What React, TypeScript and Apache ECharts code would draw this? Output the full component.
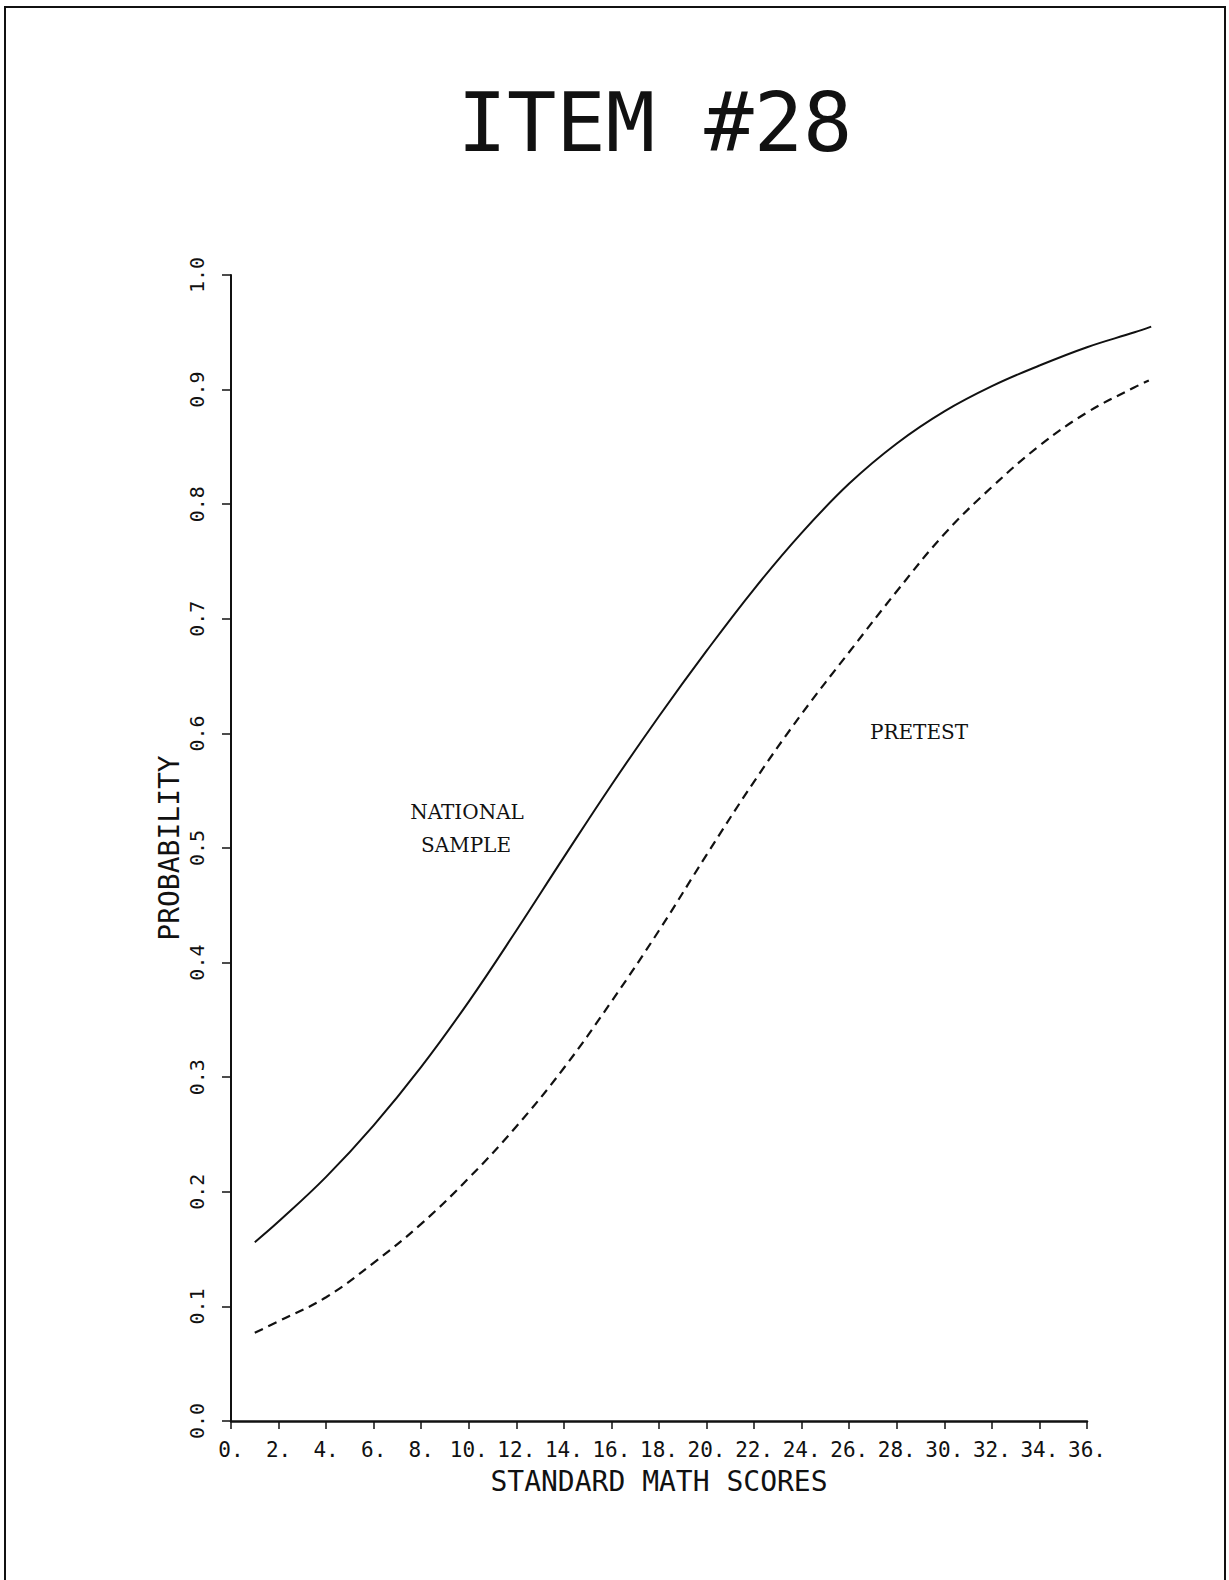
import React, { useEffect, useRef } from "react";
import * as echarts from "echarts";

const titleText = "ITEM #28";
const xAxisName = "STANDARD MATH SCORES";
const yAxisName = "PROBABILITY";

// Solid curve: National sample
const nationalX = [1, 2, 4, 6, 8, 10, 12, 14, 16, 18, 20, 22, 24, 26, 28, 30, 32, 34, 36, 38, 38.7];
const nationalY = [0.156, 0.174, 0.213, 0.258, 0.309, 0.366, 0.428, 0.492, 0.555, 0.615, 0.672, 0.726, 0.775, 0.818, 0.853, 0.881, 0.903, 0.921, 0.937, 0.950, 0.955];

// Dashed curve: Pretest
const pretestX = [1, 2, 4, 6, 8, 10, 12, 14, 16, 18, 20, 22, 24, 26, 28, 30, 32, 34, 36, 38, 38.6];
const pretestY = [0.077, 0.087, 0.108, 0.138, 0.172, 0.212, 0.257, 0.308, 0.366, 0.428, 0.494, 0.558, 0.617, 0.671, 0.724, 0.774, 0.815, 0.851, 0.880, 0.902, 0.908];

const labelNational = ["NATIONAL", "SAMPLE"];
const labelPretest = "PRETEST";

const xAxisMax = 36;
const dataAxisMax = 39;

const mono = "'DejaVu Sans Mono', monospace";
const serif = "'DejaVu Serif', serif";

export default function App() {
  const ref = useRef<HTMLDivElement>(null);
  useEffect(() => {
    if (!ref.current) return;
    const chart = echarts.init(ref.current, undefined, { renderer: "svg" });
    const national = nationalX.map((x, i) => [x, nationalY[i]]);
    const pretest = pretestX.map((x, i) => [x, pretestY[i]]);

    const W = 1229;
    const left = 231;
    const right = 142;
    const plotW = W - left - right;
    const pxPerUnit = plotW / xAxisMax;
    const right2 = W - left - pxPerUnit * dataAxisMax;
    const top = 275;
    const bottom = 159;

    chart.setOption({
      animation: false,
      backgroundColor: "#ffffff",
      title: {
        text: titleText,
        left: 650,
        top: 76,
        textAlign: "center",
        textStyle: {
          fontFamily: mono,
          fontSize: 82,
          fontWeight: "normal",
          color: "#111",
        },
      },
      grid: [
        { left, right, top, bottom, containLabel: false },
        { left, right: right2, top, bottom, containLabel: false },
      ],
      xAxis: [
        {
          type: "value",
          gridIndex: 0,
          min: 0,
          max: xAxisMax,
          interval: 2,
          name: xAxisName,
          nameLocation: "middle",
          nameGap: 46,
          nameMoveOverlap: false,
          nameTextStyle: { fontFamily: mono, fontSize: 28, color: "#111" },
          axisLine: { show: true, lineStyle: { color: "#111", width: 2.5 } },
          axisTick: { show: true, inside: false, length: 8, lineStyle: { color: "#111", width: 1.5 } },
          axisLabel: {
            fontFamily: mono,
            fontSize: 21,
            color: "#111",
            margin: 18,
            formatter: (v: number) => `${v}.`,
          },
          splitLine: { show: false },
        },
        {
          type: "value",
          gridIndex: 1,
          min: 0,
          max: dataAxisMax,
          show: false,
        },
      ],
      yAxis: [
        {
          type: "value",
          gridIndex: 0,
          min: 0,
          max: 1,
          interval: 0.1,
          name: yAxisName,
          nameLocation: "middle",
          nameRotate: 90,
          nameGap: 48,
          nameMoveOverlap: false,
          nameTextStyle: { fontFamily: mono, fontSize: 28, color: "#111" },
          axisLine: { show: true, lineStyle: { color: "#111", width: 2 } },
          axisTick: { show: true, inside: false, length: 9, lineStyle: { color: "#111", width: 1.5 } },
          axisLabel: {
            fontFamily: mono,
            fontSize: 20,
            color: "#111",
            rotate: 90,
            margin: 24,
            formatter: (v: number) => v.toFixed(1),
          },
          splitLine: { show: false },
        },
        {
          type: "value",
          gridIndex: 1,
          min: 0,
          max: 1,
          show: false,
        },
      ],
      series: [
        {
          type: "line",
          name: "National sample",
          xAxisIndex: 1,
          yAxisIndex: 1,
          data: national,
          smooth: 0.4,
          showSymbol: false,
          clip: false,
          lineStyle: { color: "#111", width: 2, type: "solid" },
        },
        {
          type: "line",
          name: "Pretest",
          xAxisIndex: 1,
          yAxisIndex: 1,
          data: pretest,
          smooth: 0.4,
          showSymbol: false,
          clip: false,
          lineStyle: { color: "#111", width: 2.2, type: [9, 6] },
        },
      ],
      graphic: [
        {
          type: "rect",
          shape: { x: 5, y: 7, width: 1220, height: 1600 },
          style: { fill: "none", stroke: "#111", lineWidth: 2 },
          silent: true,
        },
        {
          type: "text",
          x: 467,
          y: 812,
          style: { text: labelNational[0], font: `20px ${serif}`, fill: "#111", align: "center", verticalAlign: "middle" },
        },
        {
          type: "text",
          x: 466,
          y: 845,
          style: { text: labelNational[1], font: `20px ${serif}`, fill: "#111", align: "center", verticalAlign: "middle" },
        },
        {
          type: "text",
          x: 919,
          y: 732,
          style: { text: labelPretest, font: `20px ${serif}`, fill: "#111", align: "center", verticalAlign: "middle" },
        },
      ],
    });
    return () => chart.dispose();
  }, []);
  return (
    <div
      ref={ref}
      style={{ position: "absolute", left: 0, top: 0, width: 1229, height: 1580, background: "#fff" }}
    />
  );
}
